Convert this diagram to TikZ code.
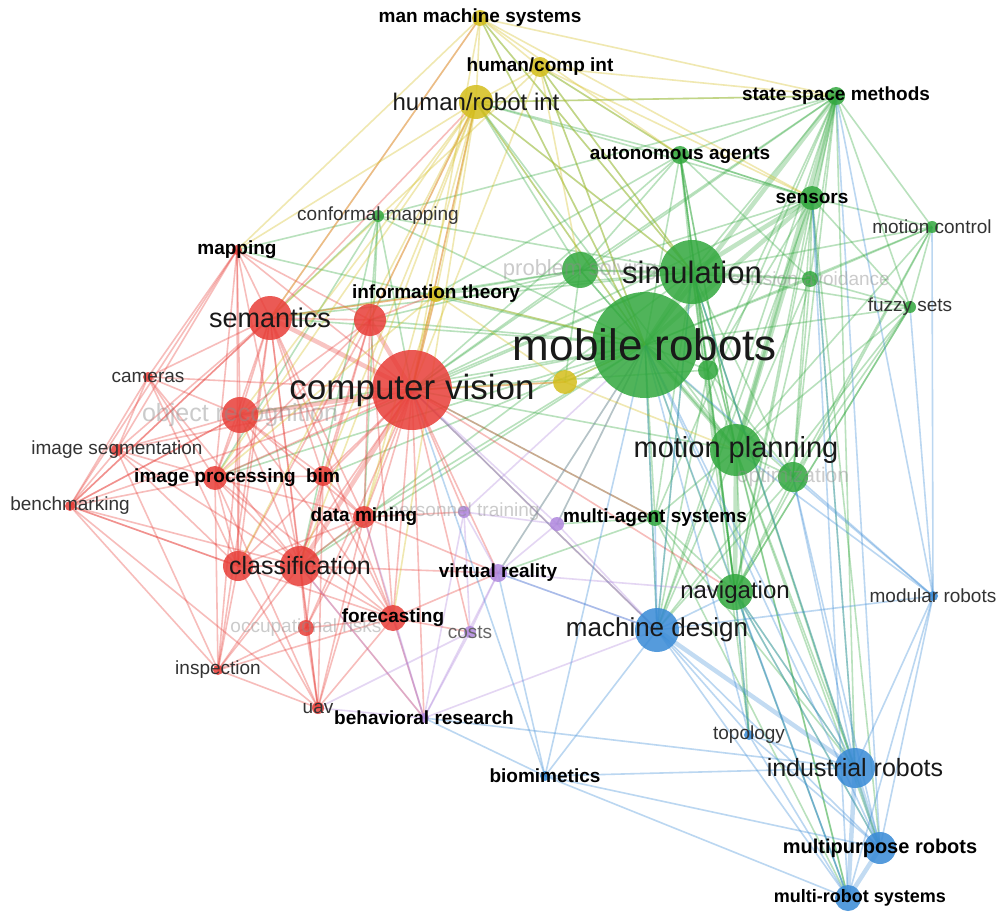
\documentclass[tikz,border=0pt]{standalone}
\usepackage{fontspec}
\setmainfont{Liberation Sans}
\definecolor{vred}{RGB}{232,62,56}
\definecolor{vgreen}{RGB}{50,168,62}
\definecolor{vblue}{RGB}{56,138,214}
\definecolor{vyellow}{RGB}{212,190,28}
\definecolor{vpurple}{RGB}{176,136,222}
\pgfdeclarelayer{bg}
\pgfsetlayers{bg,main}
\tikzset{
  dot/.style={circle, inner sep=0pt, minimum size=#1*2pt, fill opacity=0.85},
  link/.style={line width=1.6pt, opacity=0.34},
  heavy/.style={line width=4.5pt, opacity=0.3},
  big/.style={font=\fontsize{#1}{#1}\selectfont, text=black!90},
  lbl/.style={font=\fontsize{19}{19}\selectfont, text=black!80},
  blbl/.style={font=\bfseries\fontsize{#1}{#1}\selectfont, text=black},
  faint/.style={font=\fontsize{#1}{#1}\selectfont, text=black!45, text opacity=0.45},
}
\begin{document}
\begin{tikzpicture}[x=1pt,y=-1pt]
\useasboundingbox (0,0) rectangle (999,920);
% items: name/x/y/radius/cluster
\foreach \n/\x/\y/\r/\c in {
  mr/645/345/53/vgreen, sim/692/272/32/vgreen, mp/736/450/26/vgreen, nav/735/592/18/vgreen,
  sens/812/198/12/vgreen, ssm/836/96/9/vgreen, aa/680/155/9/vgreen, mc/932/227/6/vgreen,
  fs/910/307/6/vgreen, ca/810/279/8/vgreen, opt/793/477/15/vgreen, ps/580/270/18/vgreen,
  gx/708/370/10/vgreen, cm/378/216/6/vgreen, mas/655/518/8/vgreen,
  cv/412/390/40/vred, sem/270/318/22/vred, rx/370/320/16/vred, orec/240/415/18/vred,
  cla/300/566/20/vred, clb/238/566/15/vred, map/237/250/5/vred, cam/148/377/5/vred,
  iseg/117/450/6/vred, bench/70/506/5/vred, ip/215/478/12/vred, bim/323/476/10/vred,
  dm/364/517/11/vred, fc/393/618/13/vred, orisk/306/628/8/vred, insp/218/670/5/vred,
  uav/318/708/6/vred,
  br/424/718/5/vpurple, cost/470/632/6/vpurple, vr/498/573/9/vpurple, pt/464/512/6/vpurple,
  px/557/524/7/vpurple,
  md/657/630/22/vblue, ir/855/768/20/vblue, mpr/880/848/16/vblue, mrs/848/898/13/vblue,
  bio/545/776/5/vblue, topo/749/735/5/vblue, modr/933/596/5/vblue,
  hri/476/102/17/vyellow, hci/540/67/10/vyellow, mms/480/18/8/vyellow, it/436/294/8/vyellow,
  yx/565/382/12/vyellow}
  \node[dot=\r, fill=\c] (\n) at (\x,\y) {};

\begin{pgfonlayer}{bg}
\fill[white] (0,0) rectangle (999,920);
% green links
\foreach \a/\b in {mr/nav, mr/aa, mr/mc, mr/fs, mr/ca, mr/opt, mr/ps, mr/gx, mr/mas, mr/cv,
  mr/md, mr/hri, mr/hci, mr/it, mr/yx, mr/sem, mr/cla, mr/ip, mr/orec, mr/bim, mr/dm, mr/cm,
  mr/mms, mr/px, mr/map, mr/rx, mr/vr,
  sim/mp, sim/ssm, sim/aa, sim/ca, sim/fs, sim/mc, sim/opt, sim/nav, sim/ps, sim/cv, sim/md,
  sim/hri, sim/hci, sim/mms, sim/it, sim/gx, sim/mas, sim/sem, sim/cm, sim/cla, sim/ip,
  sim/ir, sim/mpr, sim/mrs, sim/topo,
  mp/ca, mp/fs, mp/opt, mp/mas, mp/md, mp/ir, mp/mpr, mp/mrs, mp/aa, mp/cv, mp/ps, mp/gx,
  mp/topo, mp/hri, mp/mc,
  nav/sens, nav/ssm, nav/ir, nav/mpr, nav/mrs, nav/opt, nav/mas, nav/ca, nav/fs, nav/aa,
  nav/topo, nav/gx, nav/mc,
  sens/aa, sens/ca, sens/fs, sens/mc, sens/opt, sens/ps, sens/gx, sens/hri, sens/cv,
  sens/md, sens/ir, sens/mpr,
  ssm/aa, ssm/mc, ssm/fs, ssm/ca, ssm/opt, ssm/ps, ssm/gx, ssm/hri, ssm/cv, ssm/cm,
  ssm/md, ssm/ir, ssm/mas,
  aa/ps, aa/hri, aa/hci, aa/ca, aa/cv, aa/gx, aa/it, aa/mp, aa/nav, aa/sens,
  mc/fs, mc/ca, mc/opt, fs/ca, fs/opt, fs/nav, fs/md, ca/opt, ca/ps,
  ps/cv, ps/hri, ps/it, ps/yx, ps/sem, ps/rx,
  cm/sem, cm/cv, cm/map, cm/rx, cm/dm, cm/ip, cm/cla,
  mas/px, mas/vr, mas/cv, mas/ir, mas/mrs, gx/opt, gx/cv, gx/nav, gx/md, opt/md}
  \draw[link, vgreen] (\a.center) -- (\b.center);
\foreach \a/\b in {mr/sim, mr/mp, mr/sens, mr/ssm, mp/nav, sens/ssm, sim/sens, mp/sens, mp/ssm}
  \draw[heavy, vgreen] (\a.center) -- (\b.center);
% red links
\foreach \a/\b in {cv/clb, cv/map, cv/cam, cv/iseg, cv/bench, cv/ip, cv/bim, cv/dm, cv/fc,
  cv/orisk, cv/insp, cv/uav, cv/it, cv/hri, cv/yx, cv/vr, cv/pt, cv/md, cv/br, cv/cost,
  cv/mas, cv/nav,
  sem/rx, sem/orec, sem/cla, sem/clb, sem/map, sem/cam, sem/iseg, sem/bench, sem/ip, sem/bim,
  sem/dm, sem/fc, sem/hri, sem/it, sem/mms, sem/uav, sem/insp,
  rx/orec, rx/cla, rx/map, rx/ip, rx/bim, rx/dm, rx/it, rx/hri, rx/clb, rx/fc,
  orec/cla, orec/clb, orec/cam, orec/iseg, orec/bench, orec/ip, orec/bim, orec/dm, orec/fc,
  orec/insp,
  cla/clb, cla/ip, cla/bim, cla/dm, cla/fc, cla/orisk, cla/insp, cla/uav, cla/vr, cla/br,
  clb/ip, clb/iseg, clb/bench, clb/insp, clb/uav, clb/fc, clb/dm,
  map/cam, map/bench, map/ip, map/orec, map/iseg, map/cla, map/clb,
  cam/iseg, cam/bench, cam/ip, cam/cla, cam/clb, iseg/bench, iseg/ip, iseg/cla, iseg/insp,
  bench/ip, bench/insp, bench/uav, bench/cla, bench/clb, bench/orec, bench/sem,
  ip/bim, ip/dm, ip/fc, ip/insp, ip/uav, bim/dm, bim/fc, bim/uav, bim/orisk,
  dm/fc, dm/orisk, dm/uav, dm/vr, dm/pt, fc/orisk, fc/uav, fc/insp, fc/cost, fc/br, fc/vr,
  orisk/insp, orisk/uav, insp/uav}
  \draw[link, vred] (\a.center) -- (\b.center);
\foreach \a/\b in {cv/sem, cv/orec, cv/cla, cv/rx}
  \draw[heavy, vred] (\a.center) -- (\b.center);
% purple links
\foreach \a/\b in {br/vr, br/cost, br/pt, br/cla, br/uav, vr/cost, vr/pt, vr/px, pt/px,
  cost/pt, px/mr, vr/mr, br/fc, br/md, cost/uav, vr/md, px/cv, pt/mr, br/dm, vr/nav, px/md}
  \draw[link, vpurple] (\a.center) -- (\b.center);
% blue links
\foreach \a/\b in {md/mpr, md/mrs, md/topo, md/modr, md/bio, md/nav, md/mas, md/mr,
  ir/modr, mpr/modr, mrs/modr, topo/ir, topo/mpr, topo/mrs, bio/ir, bio/mpr, bio/mrs, bio/mr,
  modr/mr, modr/mp, modr/fs, modr/opt, modr/mc, ir/mr, mpr/mr, mrs/mr, ir/sim, mrs/nav,
  ir/nav, ir/br, bio/cv, topo/mr, topo/nav, md/cv, md/vr, md/sim, ir/opt, mpr/opt, mpr/nav,
  bio/vr, bio/br, mrs/sens, ir/sens, mpr/ssm, modr/ssm}
  \draw[link, vblue] (\a.center) -- (\b.center);
\foreach \a/\b in {ir/mpr, mpr/mrs, ir/mrs, md/ir}
  \draw[heavy, vblue] (\a.center) -- (\b.center);
% yellow links
\foreach \a/\b in {hri/hci, hri/mms, hci/mms, hri/it, hri/cv, hri/rx, hri/mr, hri/sim,
  hri/cla, hri/ip, hri/map, hci/cv, hci/sem, hci/mr, hci/ssm, mms/ssm, mms/sem, mms/cv,
  mms/mr, mms/map, mms/sim, it/cv, it/yx, yx/cv, yx/mr, it/sem, hri/ssm, hci/aa, mms/aa,
  hri/dm, hri/bim, yx/mp, it/ip, hci/sens, hri/fc, it/dm, hri/orec, hri/clb, hci/sim,
  mms/sens, hci/ps, it/mr}
  \draw[link, vyellow] (\a.center) -- (\b.center);
\end{pgfonlayer}

% labels hidden behind others
\node[faint=25] (t-orec) at (orec) {object recognition};
\node[faint=22] (t-ps) at (ps) {problem solving};
\node[faint=19] (t-ca) at (ca) {collision avoidance};
\node[faint=21] (t-opt) at (opt) {optimization};
\node[faint=19] (t-pt) at (pt) {personnel training};
\node[faint=19] (t-orisk) at (orisk) {occupational risks};
% main labels
\node[big=44] (t-mr) at (mr) {mobile robots};
\node[big=35] (t-cv) at (cv) {computer vision};
\node[big=31] (t-sim) at (sim) {simulation};
\node[big=29] (t-mp) at (mp) {motion planning};
\node[big=26] (t-md) at (md) {machine design};
\node[big=25] (t-ir) at (ir) {industrial robots};
\node[big=27] (t-sem) at (sem) {semantics};
\node[big=25] (t-cla) at (cla) {classification};
\node[big=24] (t-nav) at (nav) {navigation};
\node[big=24] (t-hri) at (hri) {human/robot int};
% bold labels
\node[blbl=19] (t-mms) at (mms) {man machine systems};
\node[blbl=19] (t-hci) at (hci) {human/comp int};
\node[blbl=19] (t-ssm) at (ssm) {state space methods};
\node[blbl=19] (t-aa) at (aa) {autonomous agents};
\node[blbl=19] (t-sens) at (sens) {sensors};
\node[blbl=19] (t-map) at (map) {mapping};
\node[blbl=19] (t-it) at (it) {information theory};
\node[blbl=19] (t-ip) at (ip) {image processing};
\node[blbl=19] (t-bim) at (bim) {bim};
\node[blbl=19] (t-dm) at (dm) {data mining};
\node[blbl=19] (t-fc) at (fc) {forecasting};
\node[blbl=19] (t-vr) at (vr) {virtual reality};
\node[blbl=19] (t-mas) at (mas) {multi-agent systems};
\node[blbl=19] (t-br) at (br) {behavioral research};
\node[blbl=19] (t-bio) at (bio) {biomimetics};
\node[blbl=20] (t-mpr) at (mpr) {multipurpose robots};
\node[blbl=18] (t-mrs) at ([xshift=12pt]mrs) {multi-robot systems};
% small labels
\node[lbl] (t-cm) at (cm) {conformal mapping};
\node[lbl] (t-mc) at (mc) {motion control};
\node[lbl] (t-fs) at (fs) {fuzzy sets};
\node[lbl] (t-cam) at (cam) {cameras};
\node[lbl] (t-iseg) at (iseg) {image segmentation};
\node[lbl] (t-bench) at (bench) {benchmarking};
\node[lbl] (t-insp) at (insp) {inspection};
\node[lbl] (t-uav) at (uav) {uav};
\node[lbl, text=black!60] (t-cost) at (cost) {costs};
\node[lbl] (t-topo) at (topo) {topology};
\node[lbl] (t-modr) at (modr) {modular robots};
\end{tikzpicture}
\end{document}
